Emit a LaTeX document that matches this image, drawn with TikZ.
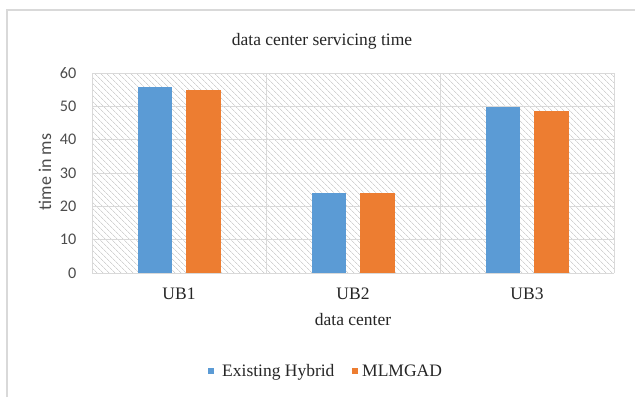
\documentclass[tikz,border=0pt]{standalone}
\usepackage{fontspec}
\setmainfont{Liberation Serif}
\newfontfamily\calfont{Carlito}
\usetikzlibrary{patterns.meta}
\definecolor{barblue}{HTML}{5B9BD5}
\definecolor{barorange}{HTML}{ED7D31}
\definecolor{gridgray}{HTML}{D9D9D9}
\definecolor{hatchgray}{HTML}{D2D2D2}
\definecolor{frameg}{HTML}{D9D9D9}
\begin{document}
\begin{tikzpicture}[x=1pt,y=-1pt,
  serif/.style={font=\fontsize{17.5}{20}\selectfont, text=black!85, inner sep=0pt},
  tick/.style={font=\calfont\fontsize{16.2}{18}\selectfont, text=black!70, anchor=east, inner sep=0pt},
  ytitle/.style={font=\calfont\fontsize{18}{20}\selectfont, text=black!70, inner sep=0pt},
  grid line/.style={draw=gridgray, line width=1pt},
  bluebar/.style={fill=barblue},
  orangebar/.style={fill=barorange}]
\useasboundingbox (0,0) rectangle (635,397);
\fill[white] (0,0) rectangle (635,397);
% outer frame
\draw[frameg, line width=1.5pt] (7,397) -- (7,10) -- (635,10);
% plot area hatch
\fill[pattern={Lines[angle=-45,distance=4pt,line width=0.7pt]}, pattern color=hatchgray] (92,73) rectangle (614,273);
% horizontal grid
\foreach \v in {0,10,...,60}{
  \draw[grid line] (92,{273-\v*10/3}) -- (614,{273-\v*10/3});
  \node[tick] (t\v) at (76.5,{273-\v*10/3}) {\v};
}
% vertical grid
\foreach \xx in {92,266,440,614}{
  \draw[grid line] (\xx,73) -- (\xx,273);
}
% bars
\fill[bluebar] (138,273) rectangle (172,{273-55.7*10/3});
\fill[orangebar] (186,273) rectangle (221,{273-54.8*10/3});
\fill[bluebar] (312,273) rectangle (346,{273-24.1*10/3});
\fill[orangebar] (360,273) rectangle (395,{273-24.1*10/3});
\fill[bluebar] (486,273) rectangle (520,{273-49.9*10/3});
\fill[orangebar] (534,273) rectangle (569,{273-48.6*10/3});
% texts
\node[serif, anchor=base] (title) at (322,45) {data center servicing time};
\node[serif, anchor=base] (ub1) at (179,299) {UB1};
\node[serif, anchor=base] (ub2) at (353,299) {UB2};
\node[serif, anchor=base] (ub3) at (527,299) {UB3};
\node[serif, anchor=base] (xlab) at (353,325) {data center};
\node[ytitle, rotate=90] (ylab) at (45,172) {time in ms};
% legend
\fill[barblue] (208,368) rectangle (214,374);
\node[serif, anchor=base west] (leg1) at (222,376) {Existing Hybrid};
\fill[barorange] (352,368) rectangle (358,374);
\node[serif, anchor=base west] (leg2) at (362,376) {MLMGAD};
\end{tikzpicture}
\end{document}
